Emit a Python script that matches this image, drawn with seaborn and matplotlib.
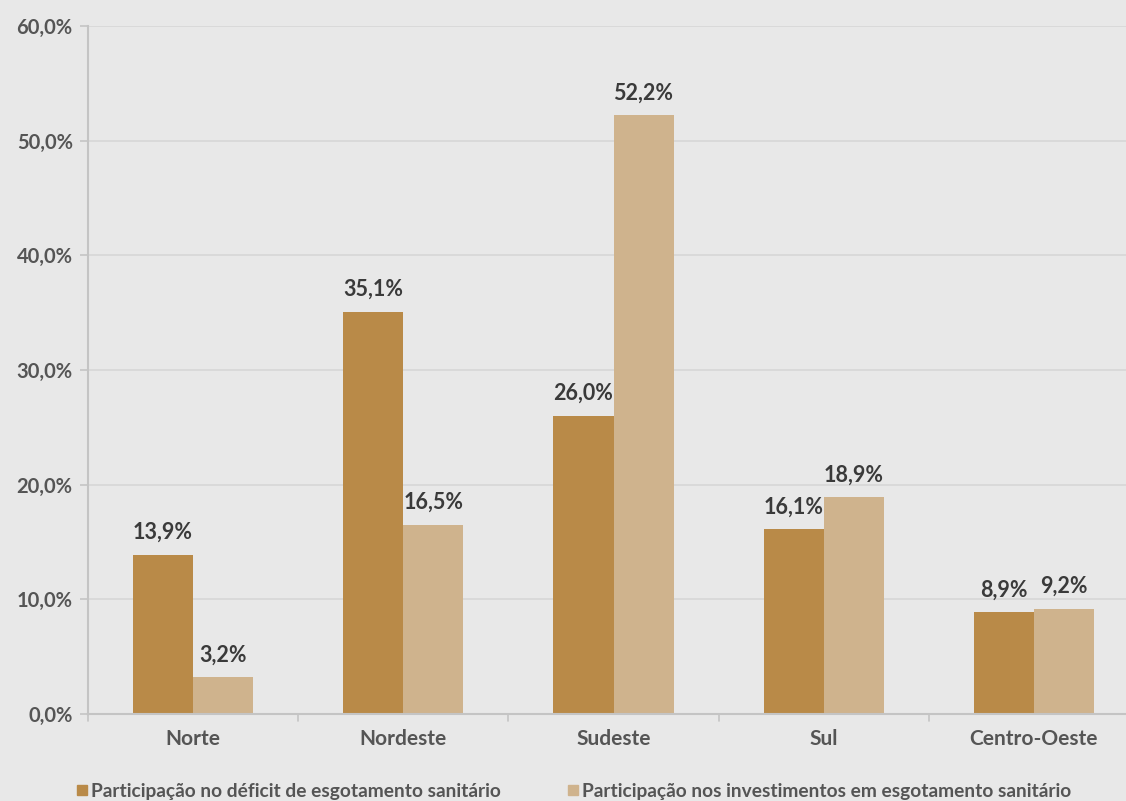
import matplotlib
matplotlib.use("Agg")
import matplotlib.pyplot as plt
import seaborn as sns
import pandas as pd
from matplotlib.lines import Line2D

regions = ["Norte", "Nordeste", "Sudeste", "Sul", "Centro-Oeste"]
deficit = [13.9, 35.1, 26.0, 16.1, 8.9]
investimentos = [3.2, 16.5, 52.2, 18.9, 9.2]
series_names = ["Participação no déficit de esgotamento sanitário",
                "Participação nos investimentos em esgotamento sanitário"]
yticks = [0, 10, 20, 30, 40, 50, 60]

colors = ["#b98a48", "#cfb38d"]
bg = "#e8e8e8"

df = pd.DataFrame({
    "Região": regions * 2,
    "Valor": deficit + investimentos,
    "Série": [series_names[0]] * len(regions) + [series_names[1]] * len(regions),
})

sns.set_theme(style="white")
plt.rcParams["font.family"] = ["Lato", "DejaVu Sans"]

W, H = 1126, 801
fig = plt.figure(figsize=(W / 100, H / 100), dpi=100, facecolor=bg)
ax = fig.add_axes([88 / W, 1 - 714 / H, 1051 / W, 688 / H])
ax.set_facecolor(bg)

sns.barplot(data=df, x="Região", y="Valor", hue="Série", palette=colors,
            width=0.571, ax=ax, legend=False, saturation=1, errorbar=None,
            linewidth=0)

ax.set_ylim(0, 60)
ax.set_xlim(-0.5, len(regions) - 0.5)
ax.set_yticks(yticks)
ax.set_yticklabels([f"{v:.1f}".replace(".", ",") + "%" for v in yticks],
                   fontsize=14.5, color="#555555", fontweight="bold")
ax.set_xticks(range(len(regions)))
ax.set_xticklabels(regions, fontsize=15, color="#555555", fontweight="bold")
ax.tick_params(axis="x", length=0, pad=11)
ax.tick_params(axis="y", length=6, color="#c4c4c4", width=1.2, pad=5, left=True)
for b in [i + 0.5 for i in range(len(regions) - 1)] + [-0.5]:
    ax.plot([b, b], [0, -0.0095], transform=ax.get_xaxis_transform(),
            color="#c4c4c4", lw=1.2, clip_on=False)

ax.set_xlabel("")
ax.set_ylabel("")
ax.grid(axis="y", color="#d6d6d6", lw=1.2)
ax.set_axisbelow(True)
for s in ["top", "right"]:
    ax.spines[s].set_visible(False)
for s in ["left", "bottom"]:
    ax.spines[s].set_color("#c4c4c4")
    ax.spines[s].set_linewidth(1.5)

for cont in ax.containers:
    for bar in cont:
        h = bar.get_height()
        ax.annotate(f"{h:.1f}".replace(".", ",") + "%",
                    (bar.get_x() + bar.get_width() / 2, h),
                    xytext=(0, 16), textcoords="offset points",
                    ha="center", va="center", fontsize=15.5,
                    fontweight="bold", color="#3a3a3a")

legend_x = [75, 566]
for name, c, lx in zip(series_names, colors, legend_x):
    h = Line2D([0], [0], marker="s", linestyle="", markersize=7.5,
               markerfacecolor=c, markeredgecolor=c)
    fig.legend([h], [name], loc="lower left", bbox_to_anchor=(lx / W, 1.5 / H),
               frameon=False, labelcolor="#555555", borderpad=0, borderaxespad=0,
               handletextpad=0.1, handlelength=0.75,
               prop={"weight": "bold", "size": 13.8})

fig.savefig("out.png", dpi=100, facecolor=bg)
